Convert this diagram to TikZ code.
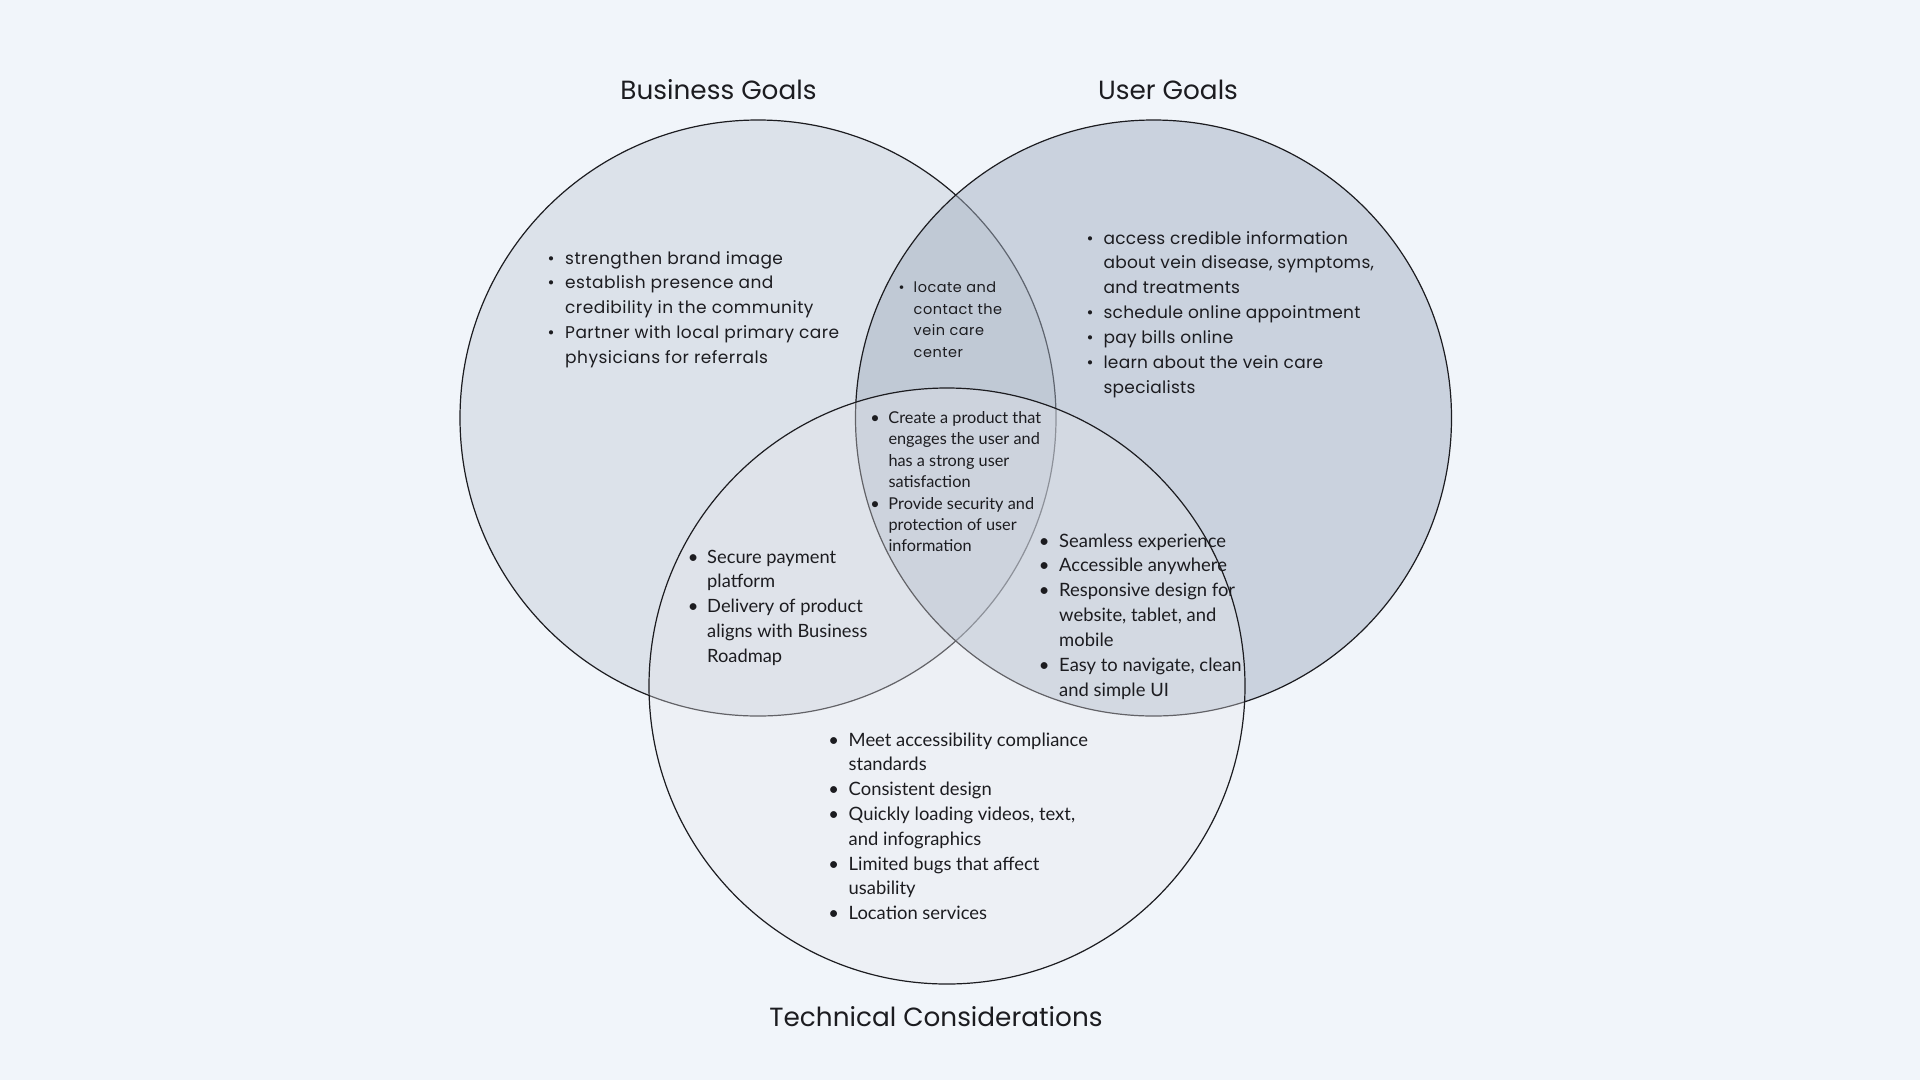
\documentclass[tikz,border=0pt]{standalone}
\usepackage{fontspec}
\setmainfont{Lato}
\newfontfamily\wide{Poppins}
\newfontfamily\wideA[LetterSpace=2.8]{Poppins}
\newfontfamily\wideB[LetterSpace=1.7]{Poppins}
\newfontfamily\wideC[LetterSpace=3.5]{Poppins}
\definecolor{bg}{RGB}{241,245,250}
\definecolor{bizfill}{RGB}{220,226,234}
\definecolor{usrfill}{RGB}{163,175,193}
\definecolor{tecfill}{RGB}{230,231,236}
\definecolor{ink}{RGB}{28,28,32}
\newcommand{\bl}{\makebox[0pt][c]{•}}
\newcommand{\blist}[2]{\begin{tabular}[t]{@{}l@{\hspace{#1}}l@{}}#2\end{tabular}}
\tikzset{
  setc/.style={draw=ink, line width=1.2pt},
  bizc/.style={setc, fill=bizfill},
  usrc/.style={setc, fill=usrfill, fill opacity=0.49},
  tecc/.style={setc, fill=tecfill, fill opacity=0.35},
  lst/.style={anchor=base west, inner sep=0pt, text=ink},
  ttl/.style={anchor=base, inner sep=0pt, text=ink, font=\wide\fontsize{26.3}{30}\selectfont}
}
\begin{document}
\begin{tikzpicture}[x=1pt,y=-1pt]
\useasboundingbox[fill=bg] (0,0) rectangle (1920,1080);
% circles
\path[bizc] (758,418) circle[radius=298pt];
\path[usrc] (1153.5,418) circle[radius=298pt];
\path[tecc] (947,686) circle[radius=298pt];
% titles
\node[ttl] (tbiz) at (718.5,99.3) {Business Goals};
\node[ttl] (tusr) at (1168,99.3) {User Goals};
\node[ttl] (ttec) at (936,1026) {Technical Considerations};
% lists
\node[lst, font=\wideA\fontsize{17}{24.8}\selectfont] (bizlist) at (551,264)
 {\blist{14pt}{\bl & strengthen brand image\\ \bl & establish presence and\\ & credibility in the community\\ \bl & Partner with local primary care\\ & physicians for referrals}};
\node[lst, font=\wideB\fontsize{17}{24.9}\selectfont] (usrlist) at (1090,244)
 {\blist{13.3pt}{\bl & access credible information\\ & about vein disease, symptoms,\\ & and treatments\\ \bl & schedule online appointment\\ \bl & pay bills online\\ \bl & learn about the vein care\\ & specialists}};
\node[lst, font=\wideC\fontsize{14.5}{21.6}\selectfont] (bulist) at (901.5,292.5)
 {\blist{12pt}{\bl & locate and\\ & contact the\\ & vein care\\ & center}};
\node[lst, font=\fontsize{16.3}{21.4}\selectfont] (alllist) at (875,423.5)
 {\blist{13.3pt}{\bl & Create a product that\\ & engages the user and\\ & has a strong user\\ & satisfaction\\ \bl & Provide security and\\ & protection of user\\ & information}};
\node[lst, font=\fontsize{18.3}{24.8}\selectfont] (btlist) at (693,563)
 {\blist{14pt}{\bl & Secure payment\\ & platform\\ \bl & Delivery of product\\ & aligns with Business\\ & Roadmap}};
\node[lst, font=\fontsize{18.4}{24.9}\selectfont] (utlist) at (1044,547)
 {\blist{15pt}{\bl & Seamless experience\\ \bl & Accessible anywhere\\ \bl & Responsive design for\\ & website, tablet, and\\ & mobile\\ \bl & Easy to navigate, clean\\ & and simple UI}};
\node[lst, font=\fontsize{18.4}{24.8}\selectfont] (teclist) at (833.5,746)
 {\blist{15pt}{\bl & Meet accessibility compliance\\ & standards\\ \bl & Consistent design\\ \bl & Quickly loading videos, text,\\ & and infographics\\ \bl & Limited bugs that affect\\ & usability\\ \bl & Location services}};
\end{tikzpicture}
\end{document}
